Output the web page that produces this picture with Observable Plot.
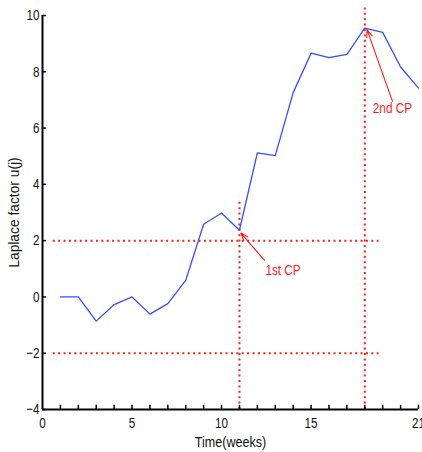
<!DOCTYPE html>
<html>
<head>
<meta charset="utf-8">
<script src="https://cdn.jsdelivr.net/npm/d3@7"></script>
<script src="https://cdn.jsdelivr.net/npm/@observablehq/plot@0.6"></script>
<style>
  html, body { margin: 0; padding: 0; background: #fff; }
  svg { display: block; }
</style>
</head>
<body>
<div id="chart"></div>
<script>
// Data
const weeks = [1, 2, 3, 4, 5, 6, 7, 8, 9, 10, 11, 12, 13, 14, 15, 16, 17, 18, 19, 20, 21];
const laplace = [0, 0, -0.86, -0.27, 0.0, -0.61, -0.24, 0.59, 2.58, 2.98, 2.37, 5.12, 5.02, 7.26, 8.66, 8.5, 8.62, 9.55, 9.4, 8.17, 7.42];

const thresholds = [2, -2];          // horizontal dotted limits
const thresholdSpan = [0.6, 18.8];   // x extent of the dotted limits
const changePoints = [11, 18];       // vertical dotted lines (weeks)
const changeTops = [3.38, 10.35];    // top of each vertical dotted line
const cpLabels = ["1st CP", "2nd CP"];
const cpArrowTail = [[12.4, 1.3], [19.55, 6.95]];
const cpArrowTip = [[11.08, 2.27], [18.12, 9.5]];
const cpTextPos = [[12.45, 0.95], [18.45, 6.7]];

const xTickLabels = [0, 5, 10, 15, 21];
const xTickMarks = d3.range(1, 22);
const yTicks = [-4, -2, 0, 2, 4, 6, 8, 10];
const xTitle = "Time(weeks)";
const yTitle = "Laplace factor u(j)";

const series = weeks.map((w, i) => ({week: w, value: laplace[i]}));
const hLines = thresholds.map(t => ({y: t, x1: thresholdSpan[0], x2: thresholdSpan[1]}));
const vLines = changePoints.map((c, i) => ({x: c, y1: -4, y2: changeTops[i]}));
const arrows = cpLabels.map((l, i) => ({
  x1: cpArrowTail[i][0], y1: cpArrowTail[i][1],
  x2: cpArrowTip[i][0], y2: cpArrowTip[i][1],
  tx: cpTextPos[i][0], ty: cpTextPos[i][1], label: l
}));

const FONT = "'Liberation Sans', Arial, sans-serif";
const red = "#ff1a1a";

const chart = Plot.plot({
  width: 422,
  height: 452,
  marginLeft: 42,
  marginRight: 4,
  marginTop: 15,
  marginBottom: 43,
  style: {fontFamily: FONT, fontSize: "14px", color: "#111", background: "#fff", overflow: "visible"},
  x: {domain: [0, 21]},
  y: {domain: [-4, 10]},
  marks: [
    // dotted threshold lines
    Plot.ruleY(hLines, {y: "y", x1: "x1", x2: "x2", stroke: red, strokeWidth: 2, strokeDasharray: "2,3.4"}),
    // dotted change point lines
    Plot.ruleX(vLines, {x: "x", y1: "y1", y2: "y2", stroke: red, strokeWidth: 2, strokeDasharray: "2,3.4"}),
    // series line
    Plot.line(series, {x: "week", y: "value", stroke: "#3a4cff", strokeWidth: 1.3}),
    // annotations
    Plot.arrow(arrows, {x1: "x1", y1: "y1", x2: "x2", y2: "y2", stroke: red, strokeWidth: 1.1, headLength: 11, headAngle: 40}),
    Plot.text(arrows, {x: "tx", y: "ty", text: "label", fill: red, textAnchor: "start", fontSize: 14}),
    // axes
    Plot.axisX(xTickLabels, {tickSize: 0, tickPadding: 8, fontSize: 15, label: xTitle, labelAnchor: "center", labelArrow: "none", labelOffset: 37}),
    Plot.ruleX(xTickMarks, {x: d => d, y1: -4, y2: -3.85, stroke: "#000", strokeWidth: 1.5}),
    Plot.axisY(yTicks, {tickSize: -4, tickPadding: 7, fontSize: 15, label: yTitle, labelAnchor: "center", labelArrow: "none", labelOffset: 34, strokeWidth: 1.5}),
    Plot.ruleX([0], {stroke: "#000", strokeWidth: 2}),
    Plot.ruleY([-4], {stroke: "#000", strokeWidth: 2})
  ]
});
// The reference's lettering is horizontally condensed: squeeze each text along its own baseline.
chart.querySelectorAll("text").forEach(t => {
  const s = t.textContent.trim();
  let k = 0.78;
  if (s === xTitle) k = 0.84;
  else if (s === yTitle) { k = 0.92; t.setAttribute("font-size", 15); }
  else if (cpLabels.includes(s)) k = 0.84;
  const tr = t.getAttribute("transform") || "";
  t.setAttribute("transform", (tr + ` scale(${k},1)`).trim());
});
document.getElementById("chart").appendChild(chart);
</script>
</body>
</html>
